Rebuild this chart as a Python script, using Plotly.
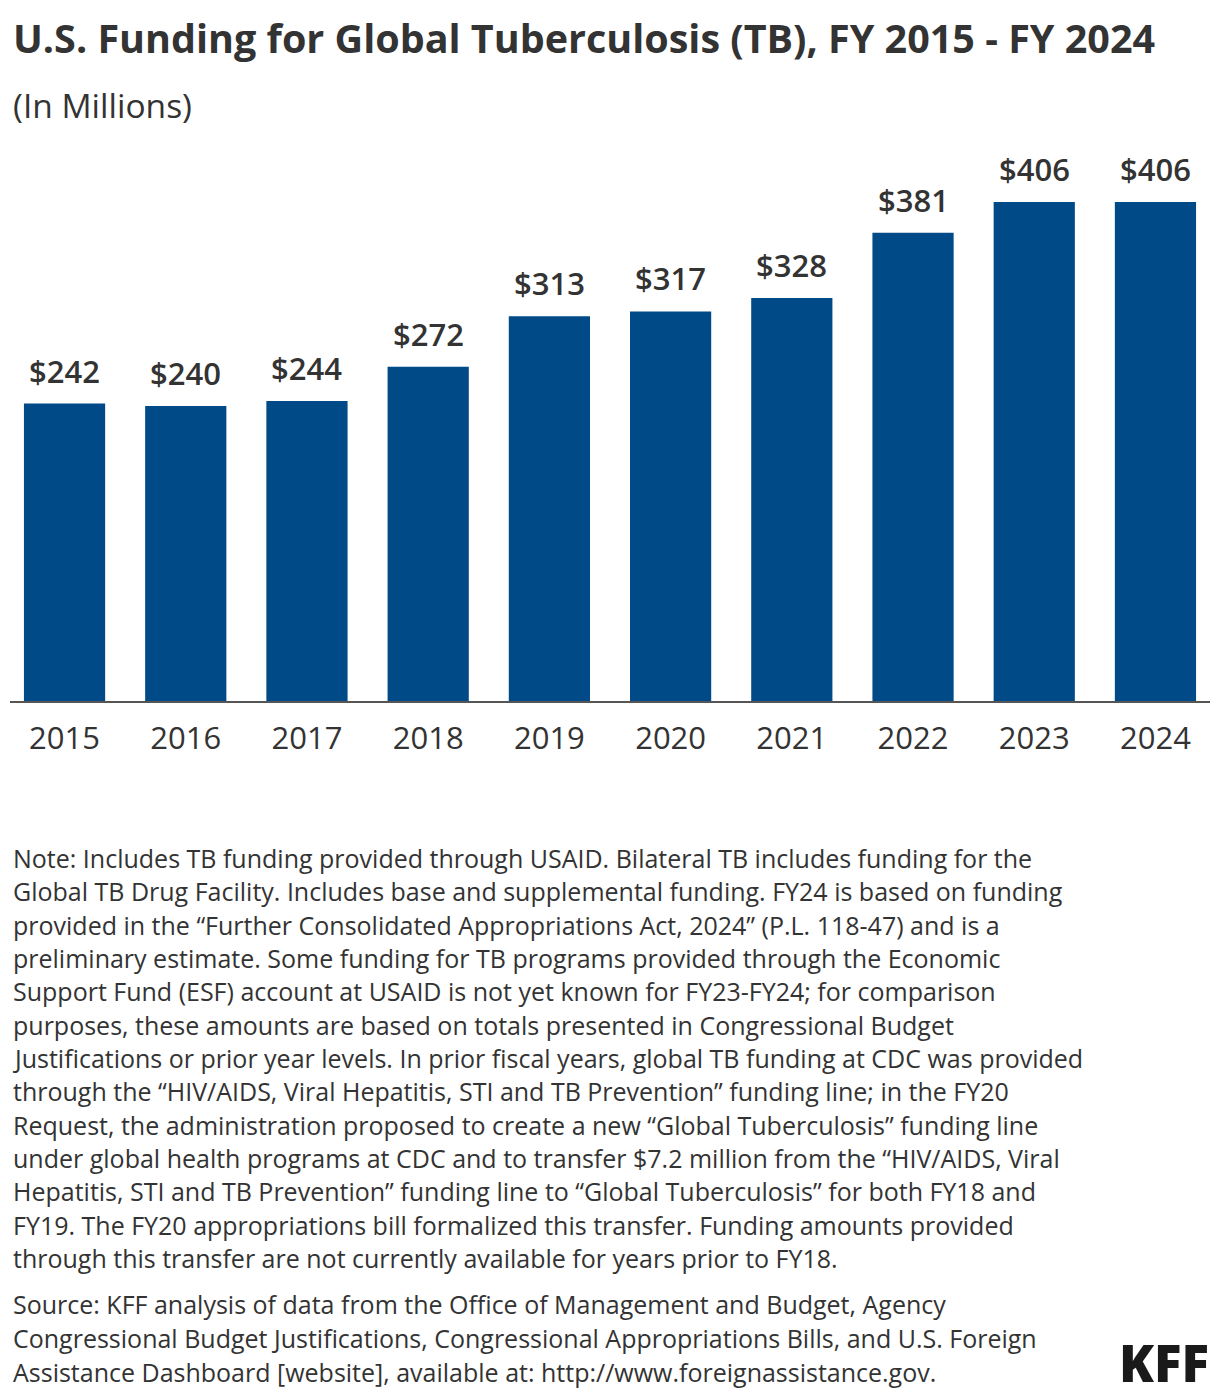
import plotly.graph_objects as go

years = ["2015", "2016", "2017", "2018", "2019", "2020", "2021", "2022", "2023", "2024"]
funding = [242, 240, 244, 272, 313, 317, 328, 381, 406, 406]
labels = ["$242", "$240", "$244", "$272", "$313", "$317", "$328", "$381", "$406", "$406"]

title = "U.S. Funding for Global Tuberculosis (TB), FY 2015 - FY 2024"
subtitle = "(In Millions)"
note_lines = [
    "Note: Includes TB funding provided through USAID. Bilateral TB includes funding for the",
    "Global TB Drug Facility. Includes base and supplemental funding. FY24 is based on funding",
    "provided in the \u201cFurther Consolidated Appropriations Act, 2024\u201d (P.L. 118-47) and is a",
    "preliminary estimate. Some funding for TB programs provided through the Economic",
    "Support Fund (ESF) account at USAID is not yet known for FY23-FY24; for comparison",
    "purposes, these amounts are based on totals presented in Congressional Budget",
    "Justifications or prior year levels. In prior fiscal years, global TB funding at CDC was provided",
    "through the \u201cHIV/AIDS, Viral Hepatitis, STI and TB Prevention\u201d funding line; in the FY20",
    "Request, the administration proposed to create a new \u201cGlobal Tuberculosis\u201d funding line",
    "under global health programs at CDC and to transfer $7.2 million from the \u201cHIV/AIDS, Viral",
    "Hepatitis, STI and TB Prevention\u201d funding line to \u201cGlobal Tuberculosis\u201d for both FY18 and",
    "FY19. The FY20 appropriations bill formalized this transfer. Funding amounts provided",
    "through this transfer are not currently available for years prior to FY18.",
]
source_lines = [
    "Source: KFF analysis of data from the Office of Management and Budget, Agency",
    "Congressional Budget Justifications, Congressional Appropriations Bills, and U.S. Foreign",
    "Assistance Dashboard [website], available at: http://www.foreignassistance.gov.",
]

OFF = 8  # page offset of the plot div
W, H = 1220, 1398
L, R, T = 10 - OFF, 10 + OFF, 140 - OFF
B = H - (701 - OFF)
PW, PH = W - L - R, H - T - B
FONT = "Open Sans, sans-serif"
TXT = "#333333"


def px(x):
    return (x - OFF - L) / PW


def py(y):
    return (H - B - (y - OFF)) / PH


fig = go.Figure(
    go.Bar(
        x=years,
        y=funding,
        marker=dict(color="#004A87", line=dict(width=0)),
        hoverinfo="skip",
    )
)

fig.update_layout(
    width=W,
    height=H,
    margin=dict(l=L, r=R, t=T, b=B),
    paper_bgcolor="white",
    plot_bgcolor="white",
    bargap=0.33,
    showlegend=False,
    font=dict(family=FONT, color=TXT),
    xaxis=dict(
        type="category",
        range=[-0.45, 9.45],
        showgrid=False,
        showline=True,
        linecolor="#555555",
        linewidth=2,
        ticks="",
        tickfont=dict(size=31, color=TXT, family=FONT),
        ticklabelstandoff=9,
        zeroline=False,
    ),
    yaxis=dict(
        range=[0, PH / 1.229],
        visible=False,
        showgrid=False,
        zeroline=False,
    ),
)

ann = []
for i, (val, lab) in enumerate(zip(funding, labels)):
    ann.append(dict(text=lab, x=i, y=val, xref="x", yref="y", xanchor="center",
                    yanchor="middle", yshift=33, showarrow=False,
                    font=dict(size=31, color=TXT, family=FONT, weight=600)))
ann.append(dict(text=title, x=px(11), y=py(38), xref="paper", yref="paper",
                xanchor="left", yanchor="middle", showarrow=False,
                font=dict(size=39.5, color=TXT, family=FONT, weight=700)))
ann.append(dict(text=subtitle, x=px(11), y=py(105), xref="paper", yref="paper",
                xanchor="left", yanchor="middle", showarrow=False,
                font=dict(size=33.5, color=TXT, family=FONT)))
for i, line in enumerate(note_lines):
    ann.append(dict(text=line, x=px(11), y=py(858 + i * 33.33), xref="paper", yref="paper",
                    xanchor="left", yanchor="middle", showarrow=False,
                    font=dict(size=25, color=TXT, family=FONT)))
for i, line in enumerate(source_lines):
    ann.append(dict(text=line, x=px(11), y=py(1304 + i * 34), xref="paper", yref="paper",
                    xanchor="left", yanchor="middle", showarrow=False,
                    font=dict(size=25, color=TXT, family=FONT)))
ann.append(dict(text="KFF", x=px(1211), y=py(1362), xref="paper", yref="paper",
                xanchor="right", yanchor="middle", showarrow=False,
                font=dict(size=51, color="#1a1a1a", family="Open Sans, sans-serif", weight=800)))
fig.update_layout(annotations=ann)

fig.write_html("out.html")
